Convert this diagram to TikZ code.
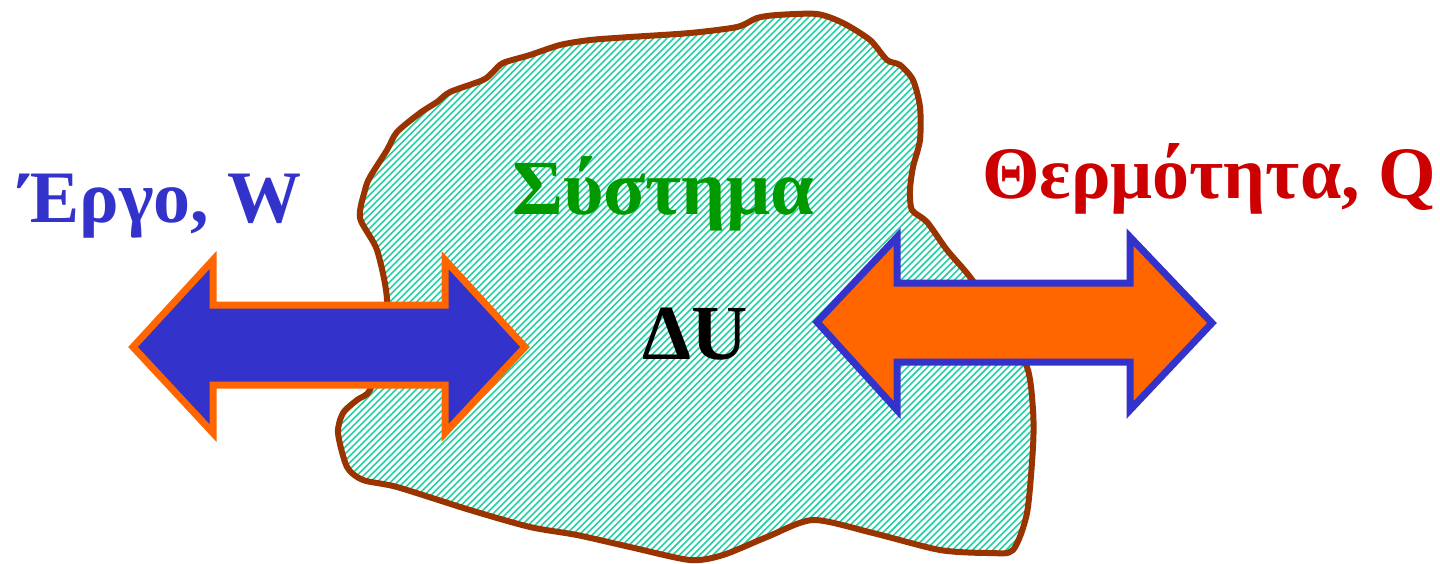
\documentclass[tikz,border=0pt]{standalone}
\usepackage{fontspec}
\setmainfont{Liberation Serif}
\definecolor{brownline}{HTML}{993300}
\definecolor{hatch}{HTML}{00C896}
\definecolor{wblue}{HTML}{3333CC}
\definecolor{qorange}{HTML}{FF6600}
\definecolor{sgreen}{HTML}{009900}
\definecolor{qred}{HTML}{CC0000}
\tikzset{
  lbl/.style={font=\fontsize{37}{40}\selectfont\bfseries, inner sep=0pt, anchor=base},
  biglbl/.style={font=\fontsize{39}{42}\selectfont\bfseries, inner sep=0pt, anchor=base},
  warrow/.style={fill=wblue, draw=qorange, line width=3.5pt, miter limit=10},
  qarrow/.style={fill=qorange, draw=wblue, line width=3.5pt, miter limit=10},
}
\begin{document}
\begin{tikzpicture}[x=0.5pt,y=-0.5pt]
\useasboundingbox (0,0) rectangle (1440,563);
\def\blob{plot[smooth cycle, tension=0.45] coordinates {
 (817,14) (843,23) (870,40) (887,60) (900,65) (913,80) (920,107) (920,140) (913,167) (910,190) (912,210) (927,222) (947,250) (970,277)
 (1000,320) (1027,367) (1033,410) (1033,447) (1027,513) (1013,550) (990,553) (940,550) (873,533) (813,520) (767,537) (723,555) (690,560)
 (630,547) (577,535) (530,527) (470,510) (397,487) (363,480) (347,467) (338,433) (343,413) (357,400) (370,390)
 (380,350) (387,300) (377,250) (360,218) (365,190) (370,177) (387,150) (397,132) (420,113) (437,102) (450,92) (483,80) (493,72) (503,63)
 (530,55) (560,45) (590,40) (630,37) (690,33) (737,27) (757,18) (777,15)}}
\begin{scope}
  \clip \blob;
  \foreach \c in {330,336.7,...,1700} {
    \draw[hatch!85, line width=0.8pt] (\c,0) -- (\c-600,600);
  }
\end{scope}
\draw[brownline, line width=3pt, line join=round] \blob;
% Work arrow
\draw[warrow] (133,347) -- (213,260) -- (213,305) -- (445,305) -- (445,260) -- (525,347) -- (445,433) -- (445,385) -- (213,385) -- (213,433) -- cycle;
% Heat arrow
\draw[qarrow] (817,322) -- (897,237) -- (897,283) -- (1130,283) -- (1130,237) -- (1212,323) -- (1130,410) -- (1130,362) -- (897,362) -- (897,410) -- cycle;
\node[lbl, text=wblue] (work) at (161,222) {Έργο, W};
\node[biglbl, text=sgreen] (sys) at (663,214) {Σύστημα};
\node[biglbl, text=black] (du) at (695,359) {ΔU};
\node[lbl, text=qred] (heat) at (1209,198) {Θερμότητα, Q};
\end{tikzpicture}
\end{document}
